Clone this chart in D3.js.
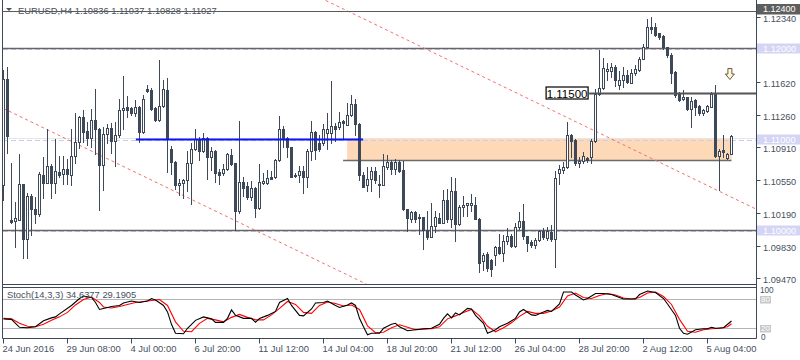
<!DOCTYPE html>
<html><head><meta charset="utf-8">
<script src="https://cdn.jsdelivr.net/npm/d3@7/dist/d3.min.js"></script>
<style>body{margin:0;background:#fff}svg{display:block}text{font-family:"Liberation Sans",Arial,sans-serif}</style>
</head><body><svg id="c" width="800" height="360"></svg>
<script>
const symbol = "EURUSD,H4";
const openP = [1.10493,1.11652,1.10110,1.10102,1.10113,1.10504,1.09898,1.10373,1.10231,1.10179,1.10603,1.10518,1.10702,1.10511,1.10636,1.10611,1.10665,1.10600,1.10811,1.10962,1.11236,1.11082,1.11005,1.11206,1.11110,1.10716,1.11056,1.11118,1.10979,1.11038,1.11312,1.11345,1.11337,1.11279,1.11345,1.11078,1.11546,1.11535,1.11337,1.11205,1.11359,1.11535,1.10888,1.10746,1.10490,1.10511,1.10548,1.10731,1.10888,1.11001,1.10870,1.11009,1.10797,1.10870,1.10636,1.10622,1.10665,1.10819,1.10731,1.10212,1.10526,1.10482,1.10366,1.10460,1.10241,1.10518,1.10518,1.10585,1.10578,1.10767,1.11104,1.11009,1.10906,1.10603,1.10600,1.10644,1.10578,1.10870,1.11074,1.10950,1.10950,1.11067,1.11067,1.11140,1.11126,1.11192,1.11154,1.11257,1.11381,1.11162,1.10607,1.10490,1.10556,1.10644,1.10497,1.10497,1.10694,1.10746,1.10665,1.10746,1.10658,1.10227,1.10124,1.10198,1.10132,1.10139,1.10000,1.09927,1.10044,1.10132,1.10080,1.10329,1.10124,1.10431,1.10066,1.10249,1.10271,1.10278,1.10271,1.10124,1.09657,1.09738,1.09671,1.09730,1.09810,1.09752,1.09876,1.09934,1.09825,1.10030,1.10095,1.09934,1.09869,1.09833,1.09891,1.09993,1.09913,1.09978,1.09898,1.10629,1.10658,1.10687,1.11045,1.10987,1.10738,1.10753,1.10789,1.10804,1.10979,1.11495,1.11557,1.11743,1.11743,1.11789,1.11590,1.11644,1.11696,1.11615,1.11717,1.11754,1.11878,1.12010,1.12229,1.12222,1.12156,1.12127,1.12002,1.11918,1.11732,1.11491,1.11433,1.11462,1.11330,1.11425,1.11359,1.11279,1.11308,1.11352,1.11491,1.10811,1.10877,1.10789,1.10836];
const highP = [1.11754,1.11789,1.10731,1.10310,1.10830,1.10504,1.10402,1.10395,1.10359,1.10640,1.10797,1.11107,1.10724,1.11001,1.10811,1.10811,1.10774,1.11107,1.11286,1.11250,1.11315,1.11187,1.11330,1.11546,1.11115,1.11133,1.11162,1.11170,1.11184,1.11433,1.11688,1.11469,1.11352,1.11425,1.11359,1.11480,1.11590,1.11553,1.11352,1.11863,1.11644,1.11663,1.10921,1.10753,1.10556,1.10562,1.10866,1.10950,1.11104,1.11023,1.11067,1.11016,1.10906,1.10877,1.10665,1.10724,1.10841,1.10892,1.10731,1.11195,1.10578,1.10530,1.10541,1.10468,1.10724,1.10622,1.10658,1.10651,1.10774,1.11250,1.11140,1.11016,1.10906,1.10622,1.10702,1.10702,1.10884,1.11192,1.11082,1.11038,1.11162,1.11286,1.11637,1.11170,1.11293,1.11206,1.11389,1.11483,1.11440,1.11170,1.10636,1.10694,1.10694,1.10687,1.10600,1.10833,1.10819,1.10767,1.10774,1.10767,1.10760,1.10234,1.10212,1.10205,1.10175,1.10146,1.10205,1.10293,1.10205,1.10183,1.10439,1.10453,1.10585,1.10570,1.10271,1.10373,1.10300,1.10395,1.10366,1.10132,1.09745,1.09760,1.09679,1.09825,1.09956,1.09942,1.10022,1.09956,1.10080,1.10198,1.10285,1.09934,1.09891,1.09913,1.10000,1.10022,1.10030,1.10059,1.10651,1.10709,1.10746,1.11184,1.11052,1.10994,1.10804,1.10855,1.10804,1.10994,1.11546,1.11973,1.11886,1.11830,1.11830,1.11804,1.11746,1.11789,1.11754,1.11768,1.11804,1.11900,1.12039,1.12316,1.12338,1.12272,1.12163,1.12141,1.12009,1.11937,1.11746,1.11513,1.11535,1.11462,1.11462,1.11440,1.11366,1.11330,1.11366,1.11513,1.11593,1.10884,1.11038,1.10848,1.11037];
const lowP = [1.10329,1.10841,1.10080,1.09818,1.10110,1.09690,1.09690,1.09945,1.10080,1.10154,1.10347,1.10511,1.10347,1.10409,1.10585,1.10504,1.10504,1.10493,1.10738,1.10896,1.10968,1.10932,1.10914,1.10833,1.10219,1.10439,1.10950,1.10848,1.10702,1.11023,1.11110,1.11236,1.11257,1.11250,1.10968,1.11067,1.11513,1.11315,1.11198,1.11198,1.11345,1.10640,1.10614,1.10446,1.10387,1.10347,1.10424,1.10282,1.10877,1.10767,1.10855,1.10556,1.10658,1.10526,1.10504,1.10600,1.10658,1.10709,1.10000,1.10190,1.10373,1.10344,1.10329,1.10139,1.10234,1.10504,1.10504,1.10556,1.10570,1.10760,1.10906,1.10804,1.10585,1.10585,1.10526,1.10402,1.10475,1.10767,1.10774,1.10870,1.10928,1.10884,1.10957,1.10972,1.11104,1.11009,1.11148,1.11250,1.11038,1.10548,1.10475,1.10431,1.10431,1.10511,1.10359,1.10490,1.10665,1.10614,1.10614,1.10636,1.10219,1.09986,1.10088,1.10088,1.09956,1.09796,1.09905,1.09920,1.09978,1.10073,1.10073,1.10088,1.10030,1.09883,1.10059,1.10154,1.10154,1.10212,1.10117,1.09540,1.09562,1.09547,1.09496,1.09613,1.09737,1.09657,1.09847,1.09810,1.09810,1.10015,1.09905,1.09766,1.09810,1.09803,1.09883,1.09905,1.09891,1.09883,1.09598,1.10504,1.10622,1.10680,1.10804,1.10716,1.10694,1.10738,1.10746,1.10731,1.10968,1.11484,1.11546,1.11644,1.11673,1.11579,1.11546,1.11568,1.11615,1.11608,1.11703,1.11743,1.11871,1.12002,1.12156,1.12127,1.12097,1.11987,1.11900,1.11615,1.11461,1.11417,1.11425,1.11315,1.11126,1.11264,1.11257,1.11264,1.11293,1.11345,1.10804,1.10439,1.10804,1.10782,1.10828];
const closeP = [1.11652,1.11031,1.10088,1.10128,1.10504,1.09905,1.10373,1.10235,1.10179,1.10614,1.10518,1.10702,1.10511,1.10644,1.10603,1.10665,1.10611,1.10811,1.10962,1.11236,1.11078,1.11005,1.11206,1.11110,1.10716,1.11056,1.11118,1.10979,1.11038,1.11315,1.11341,1.11315,1.11279,1.11345,1.11078,1.11433,1.11520,1.11330,1.11209,1.11359,1.11546,1.10998,1.10746,1.10490,1.10515,1.10548,1.10731,1.10888,1.10998,1.10870,1.11009,1.10804,1.10870,1.10628,1.10607,1.10672,1.10830,1.10724,1.10212,1.10526,1.10464,1.10366,1.10460,1.10241,1.10526,1.10534,1.10574,1.10563,1.10767,1.11104,1.11001,1.10906,1.10585,1.10596,1.10644,1.10578,1.10870,1.11074,1.10877,1.10884,1.11104,1.11104,1.11140,1.11110,1.11184,1.11170,1.11257,1.11381,1.11162,1.10607,1.10475,1.10563,1.10644,1.10548,1.10504,1.10702,1.10746,1.10665,1.10746,1.10651,1.10227,1.10128,1.10198,1.10124,1.10146,1.10000,1.09927,1.10044,1.10146,1.10080,1.10329,1.10124,1.10431,1.10066,1.10256,1.10278,1.10293,1.10300,1.10124,1.09642,1.09730,1.09584,1.09577,1.09810,1.09752,1.09884,1.09934,1.09825,1.10037,1.10095,1.09934,1.09861,1.09840,1.09891,1.09993,1.09920,1.09986,1.09898,1.10570,1.10665,1.10694,1.11045,1.10979,1.10738,1.10760,1.10811,1.10767,1.10979,1.11495,1.11557,1.11776,1.11765,1.11789,1.11644,1.11644,1.11699,1.11622,1.11724,1.11761,1.11878,1.12010,1.12229,1.12207,1.12134,1.12119,1.12002,1.11918,1.11724,1.11483,1.11425,1.11455,1.11330,1.11418,1.11345,1.11286,1.11315,1.11359,1.11491,1.10811,1.10870,1.10855,1.10833,1.11027];

const timeTickIdx = [0,16,32,48,64,80,96,112,128,144,160,176];
const timeTickLabels = ["24 Jun 2016","29 Jun 08:00","4 Jul 00:00","6 Jul 20:00","11 Jul 12:00","14 Jul 04:00","18 Jul 20:00","21 Jul 12:00","26 Jul 04:00","28 Jul 20:00","2 Aug 12:00","5 Aug 04:00"];
const priceTicks = [1.12340,1.11620,1.11260,1.10910,1.10550,1.10190,1.09830,1.09470];
const topLevel = 1.12400;
const roundLevels = [1.12000,1.11000,1.10000];
const solidLevels = [1.12000,1.10000];
const resistLevel = 1.11500;
const resistStartIdx = 146.4;
const zoneLow = 1.10767, zoneHigh = 1.10998;
const zoneIdx = [85.9, 182];
const zoneLineStartIdx = 84.9;
const blueLevel = 1.11000;
const blueIdx = [33.1, 89.9];
const trendA = [[79.2,1.12545],[188.2,1.10228]];
const trendB = [[0,1.11332],[90.7,1.09408]];
const arrowAt = [181.6, 1.11710];

const stochKIdx = [0,2,3,4,6,8,10,12,13,14,17,19,20,22,23,24,25,27,29,30,32,34,36,37,38,40,41,42,43,45,46,48,50,52,53,55,56,57,58,60,62,63,64,66,68,69,71,72,74,75,77,78,80,81,83,84,86,87,88,89,90,91,92,94,95,97,98,99,101,103,105,107,109,110,111,112,113,114,116,117,118,120,121,123,124,126,128,129,130,132,133,135,136,137,139,140,142,143,145,146,148,150,152,154,155,158,159,161,163,165,166,168,169,170,171,173,175,176,177,178,180,182];
const stochKVal = [39,38,30,22,21,23,35,41,43,49,66,80,85,82,72,58,60,64,66,71,75,72,75,80,77,66,53,28,10,9,20,36,43,39,32,32,40,57,46,40,40,32,40,46,54,72,80,66,46,45,59,71,72,75,66,62,67,71,66,40,23,7,10,10,20,28,30,23,15,17,19,20,28,40,49,41,51,47,60,59,46,30,10,17,23,30,40,53,58,47,46,53,56,54,69,93,93,87,77,80,90,90,88,82,79,79,88,95,92,80,69,46,20,10,8,17,19,19,22,20,21,34.6377];
const stochDIdx = [0,2,4,6,8,10,12,14,16,18,20,22,24,25,27,29,31,33,35,37,39,41,43,45,47,49,51,53,55,57,59,61,63,65,67,69,71,73,75,77,79,81,83,85,87,89,91,93,95,97,99,101,103,105,107,109,111,113,115,117,119,121,123,125,127,129,131,133,135,137,139,141,143,145,147,149,151,153,155,157,159,161,163,165,167,169,171,173,175,177,179,181,182];
const stochDVal = [40,39,30,24,23,28,36,43,52,67,78,83,72,63,61,64,68,72,74,76,78,66,33,14,13,30,40,37,33,42,48,42,37,37,47,60,74,68,52,50,66,73,70,65,67,58,25,11,12,21,27,22,17,18,19,23,39,45,52,58,45,24,13,21,31,44,54,50,50,55,63,85,91,82,80,86,90,87,81,79,82,91,93,84,68,38,14,12,17,19,20,23,29.1905];
const stochLevels = [80,20];
const stochName = "Stoch(14,3,3)";

const svg = d3.select("#c");
const INK = "#3d4858", TXT = "#46505e";
const L = 3, R = 756.5, MAINB = 284.5, STT = 287.5, STB = 338.5;
const n = openP.length;
const x = d3.scaleLinear().domain([0, n - 1]).range([3.5, 3.5 + 4 * (n - 1)]);
const y = d3.scaleLinear().domain([1.12521, 1.093755]).range([0, 287]);
const ys = d3.scaleLinear().domain([0, 100]).range([338.2, 288.6]);

svg.append("rect").attr("width", 800).attr("height", 360).attr("fill", "#fff");
const defs = svg.append("defs");
defs.append("clipPath").attr("id", "cm").append("rect").attr("x", L).attr("y", 0).attr("width", R - L).attr("height", MAINB);
defs.append("clipPath").attr("id", "cs").append("rect").attr("x", L).attr("y", STT).attr("width", R - L).attr("height", STB - STT);

const main = svg.append("g").attr("clip-path", "url(#cm)");
// zone
main.append("rect").attr("x", x(zoneIdx[0])).attr("width", x(zoneIdx[1]) - x(zoneIdx[0]))
  .attr("y", y(zoneHigh)).attr("height", y(zoneLow) - y(zoneHigh)).attr("fill", "#fdd9b8");
main.append("line").attr("x1", x(zoneLineStartIdx)).attr("x2", x(zoneIdx[1])).attr("y1", Math.round(y(zoneLow)) + 0.5).attr("y2", Math.round(y(zoneLow)) + 0.5)
  .attr("stroke", "#6b6b6b").attr("stroke-width", 1.3);
// round level dashed lines
roundLevels.forEach(v => {
  const yy = Math.round(y(v)) + 1.5;
  main.append("line").attr("x1", L).attr("x2", R).attr("y1", yy).attr("y2", yy).attr("stroke", "#ccccee").attr("stroke-dasharray", "5,3");
});
main.append("line").attr("x1", L).attr("x2", R).attr("y1", Math.round(y(1.11)) - 0.5).attr("y2", Math.round(y(1.11)) - 0.5).attr("stroke", "#e6e6e6");
// solid levels
solidLevels.forEach(v => {
  const yy = Math.round(y(v)) + 0.5;
  main.append("line").attr("x1", L).attr("x2", R).attr("y1", yy).attr("y2", yy).attr("stroke", "#666").attr("stroke-width", 1.3);
});
// trend lines
[trendA, trendB].forEach(t => {
  main.append("line").attr("x1", x(t[0][0])).attr("y1", y(t[0][1])).attr("x2", x(t[1][0])).attr("y2", y(t[1][1]))
    .attr("stroke", "#f07070").attr("stroke-dasharray", "3,3");
});
// candles
const cg = main.append("g");
for (let i = 0; i < n; i++) {
  const cx = x(i), o = openP[i], c = closeP[i];
  cg.append("line").attr("x1", cx).attr("x2", cx).attr("y1", Math.round(y(highP[i]))).attr("y2", Math.round(y(lowP[i])) + 1).attr("stroke", INK);
  const t = Math.round(y(Math.max(o, c))), b = Math.round(y(Math.min(o, c)));
  if (c >= o) {
    cg.append("rect").attr("x", cx - 1).attr("width", 2).attr("y", t + 0.5).attr("height", Math.max(b - t, 1)).attr("fill", "#fff").attr("stroke", INK);
  } else {
    cg.append("rect").attr("x", cx - 1.5).attr("width", 3).attr("y", t).attr("height", Math.max(b - t, 1) + 1).attr("fill", INK);
  }
}
// blue line
main.append("line").attr("x1", x(blueIdx[0])).attr("x2", x(blueIdx[1])).attr("y1", Math.round(y(blueLevel)) + 0.5).attr("y2", Math.round(y(blueLevel)) + 0.5).attr("stroke", "#0a14ff").attr("stroke-width", 2);
// resistance line + label
const ry = Math.round(y(resistLevel)) + 0.5;
main.append("line").attr("x1", x(resistStartIdx)).attr("x2", R).attr("y1", ry).attr("y2", ry).attr("stroke", "#555").attr("stroke-width", 2.2);
const lbx = x(resistStartIdx) - 0.5;
svg.append("rect").attr("x", lbx - 42.5).attr("y", ry - 6.5).attr("width", 42).attr("height", 12).attr("fill", "#fff").attr("stroke", "#000").attr("stroke-width", 1.2);
svg.append("text").attr("x", lbx - 21.5).attr("y", ry + 4).attr("text-anchor", "middle").attr("font-size", 11.5).attr("fill", "#000").text(resistLevel.toFixed(5));
// arrow
const ax = x(arrowAt[0]), ay = y(arrowAt[1]);
svg.append("path").attr("d", `M${ax-2},${ay-5.5}L${ax+2},${ay-5.5}L${ax+2},${ay}L${ax+4.5},${ay}L${ax},${ay+5.5}L${ax-4.5},${ay}L${ax-2},${ay}Z`)
  .attr("fill", "#fff6d8").attr("stroke", "#5a4a30").attr("stroke-width", 0.9);

// header
svg.append("path").attr("d", "M6,8L12,8L9,11Z").attr("fill", TXT);
svg.append("text").attr("x", 18).attr("y", 13.5).attr("font-size", 9.4).attr("fill", TXT)
  .text(`${symbol}  ${openP[n-1].toFixed(5)} ${highP[n-1].toFixed(5)} ${lowP[n-1].toFixed(5)} ${closeP[n-1].toFixed(5)}`);
// top level line (drawn across the header, as in the reference)
svg.append("line").attr("x1", L).attr("x2", R).attr("y1", Math.round(y(topLevel)) + 0.5).attr("y2", Math.round(y(topLevel)) + 0.5).attr("stroke", "#5a5a5a").attr("stroke-width", 1.2);

// stochastic panel
const st = svg.append("g").attr("clip-path", "url(#cs)");
stochLevels.forEach(v => {
  st.append("line").attr("x1", L).attr("x2", R).attr("y1", Math.round(ys(v)) + 0.5).attr("y2", Math.round(ys(v)) + 0.5).attr("stroke", "#b4b4b4");
});
const lineK = d3.line().x(d => x(d[0])).y(d => ys(d[1]));
st.append("path").attr("d", lineK(stochDIdx.map((d, i) => [d, stochDVal[i]]))).attr("fill", "none").attr("stroke", "#ff0000").attr("stroke-width", 1.1);
st.append("path").attr("d", lineK(stochKIdx.map((d, i) => [d, stochKVal[i]]))).attr("fill", "none").attr("stroke", "#000").attr("stroke-width", 1.1);
svg.append("text").attr("x", 7).attr("y", 298).attr("font-size", 9.4).attr("fill", TXT)
  .text(`${stochName} ${stochKVal[stochKVal.length-1].toFixed(4)} ${stochDVal[stochDVal.length-1].toFixed(4)}`);

// frames
const fr = svg.append("g").attr("stroke", INK).attr("fill", "none");
fr.append("line").attr("x1", 2.5).attr("x2", 2.5).attr("y1", 0).attr("y2", STB);
fr.append("line").attr("x1", R).attr("x2", R).attr("y1", 0).attr("y2", STB);
fr.append("line").attr("x1", 2.5).attr("x2", R).attr("y1", MAINB).attr("y2", MAINB);
fr.append("line").attr("x1", 2.5).attr("x2", R).attr("y1", STT).attr("y2", STT);
fr.append("line").attr("x1", 2.5).attr("x2", R).attr("y1", STB).attr("y2", STB);

// price axis
priceTicks.forEach(v => {
  const yy = Math.round(y(v)) + 0.5;
  svg.append("line").attr("x1", R).attr("x2", R + 4).attr("y1", yy).attr("y2", yy).attr("stroke", INK);
  svg.append("text").attr("x", 763).attr("y", yy + 4.5).attr("font-size", 9.2).attr("fill", TXT).text(v.toFixed(5));
});
roundLevels.forEach(v => {
  const yy = Math.round(y(v)) + 0.5;
  svg.append("rect").attr("x", 757).attr("y", yy - 5).attr("width", 43).attr("height", 10).attr("fill", "#d4d4f4");
  svg.append("text").attr("x", 763).attr("y", yy + 3.5).attr("font-size", 9.2).attr("fill", "#fff").text(v.toFixed(5));
});
{
  const yy = Math.round(y(topLevel));
  svg.append("rect").attr("x", 757).attr("y", yy - 7).attr("width", 43).attr("height", 10.5).attr("fill", "#5e5e5e");
  svg.append("text").attr("x", 763).attr("y", yy + 1.2).attr("font-size", 9).attr("fill", "#fff").text(topLevel.toFixed(5));
}
// stoch axis labels
svg.append("text").attr("x", 760).attr("y", 293).attr("font-size", 8.2).attr("fill", TXT).text("100");
stochLevels.forEach(v => {
  const yy = Math.round(ys(v));
  svg.append("rect").attr("x", 760).attr("y", yy - 3).attr("width", 11).attr("height", 7.5).attr("fill", "#c8c8c8");
  svg.append("text").attr("x", 761).attr("y", yy + 3.3).attr("font-size", 8).attr("fill", "#fff").text(v);
});
svg.append("text").attr("x", 761).attr("y", 339.5).attr("font-size", 8.2).attr("fill", TXT).text("0");

// time axis
timeTickIdx.forEach((t, k) => {
  const xx = x(t);
  svg.append("line").attr("x1", xx).attr("x2", xx).attr("y1", STB).attr("y2", STB + 5).attr("stroke", INK);
  svg.append("text").attr("x", xx - 1).attr("y", 352).attr("font-size", 9.4).attr("fill", TXT).text(timeTickLabels[k]);
});
</script></body></html>
